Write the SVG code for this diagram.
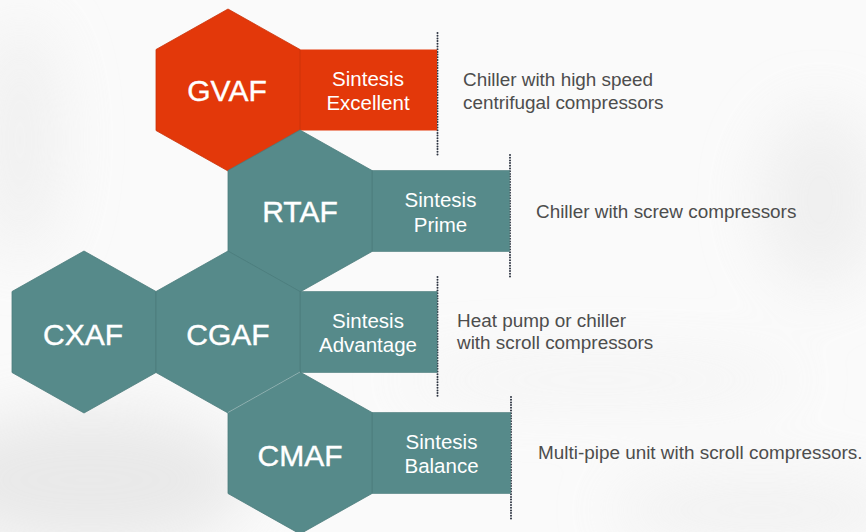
<svg xmlns="http://www.w3.org/2000/svg" width="866" height="532" viewBox="0 0 866 532">
<defs>
<style>
.hex-o{fill:#e3380a;stroke:#c93209;stroke-width:0.8}
.hex-t{fill:#568a8a;stroke:#4b7c7c;stroke-width:0.8}
.box-o{fill:#e3380a}
.box-t{fill:#568a8a;stroke:#4b7c7c;stroke-width:0.6}
.code{font-family:"Liberation Sans",Arial,sans-serif;font-size:30px;fill:#ffffff;text-anchor:middle;stroke:#ffffff;stroke-width:0.4}
.name{font-family:"Liberation Sans",Arial,sans-serif;font-size:20.5px;fill:#ffffff;text-anchor:middle}
.desc{font-family:"Liberation Sans",Arial,sans-serif;font-size:18.9px;fill:#4d4d4d}
.dots{stroke:#2c3340;stroke-width:2;stroke-linecap:round;stroke-dasharray:0 2.7;fill:none}
</style>
<filter id="blur" x="-50%" y="-50%" width="200%" height="200%"><feGaussianBlur stdDeviation="30"/></filter>
</defs>
<g id="background">
<rect width="866" height="532" fill="#fafafa"/>
<g filter="url(#blur)" opacity="0.7">
<ellipse cx="90" cy="480" rx="160" ry="70" fill="#e2e2e2"/>
<ellipse cx="20" cy="140" rx="40" ry="120" fill="#ececec"/>
<ellipse cx="820" cy="200" rx="60" ry="90" fill="#ebebeb"/>
<ellipse cx="760" cy="510" rx="150" ry="30" fill="#ececec"/>
<ellipse cx="600" cy="380" rx="200" ry="18" fill="#efefef"/>
</g>
</g>
<g id="dividers">
<line class="dots" x1="437.5" y1="33" x2="437.5" y2="155"/>
<line class="dots" x1="510" y1="155" x2="510" y2="277"/>
<line class="dots" x1="437.5" y1="277" x2="437.5" y2="398"/>
<line class="dots" x1="511" y1="397" x2="511" y2="520"/>
</g>
<g id="gvaf">
<rect class="box-o" x="299" y="49.5" width="138" height="81"/>
<polygon class="hex-o" points="228,9 300,49.5 300,130.5 228,171 156,130.5 156,49.5"/>
<text class="code" x="227" y="101">GVAF</text>
<text class="name" x="368" y="85.5">Sintesis</text>
<text class="name" x="368" y="110">Excellent</text>
<text class="desc" x="463" y="85.5">Chiller with high speed</text>
<text class="desc" x="463" y="109">centrifugal compressors</text>
</g>
<g id="rtaf">
<rect class="box-t" x="372" y="170.5" width="137.5" height="81"/>
<polygon class="hex-t" points="300,130 372,170.5 372,251.5 300,292 228,251.5 228,170.5"/>
<text class="code" x="300" y="222">RTAF</text>
<text class="name" x="440.5" y="206.5">Sintesis</text>
<text class="name" x="440.5" y="231.5">Prime</text>
<text class="desc" x="536" y="218">Chiller with screw compressors</text>
</g>
<g id="cxaf">
<polygon class="hex-t" points="84,251 156,291.5 156,372.5 84,413 12,372.5 12,291.5"/>
<text class="code" x="83" y="345">CXAF</text>
</g>
<g id="cgaf">
<rect class="box-t" x="300" y="291.5" width="137" height="81"/>
<polygon class="hex-t" points="228,251 300,291.5 300,372.5 228,413 156,372.5 156,291.5"/>
<text class="code" x="228" y="345">CGAF</text>
<text class="name" x="368" y="327.5">Sintesis</text>
<text class="name" x="368" y="352">Advantage</text>
<text class="desc" x="457" y="326.5">Heat pump or chiller</text>
<text class="desc" x="457" y="349">with scroll compressors</text>
</g>
<g id="cmaf">
<rect class="box-t" x="372" y="412.5" width="138.5" height="81"/>
<polygon class="hex-t" points="300,372 372,412.5 372,493.5 300,534 228,493.5 228,412.5"/>
<line x1="228" y1="412.5" x2="300" y2="372" stroke="#9fbebe" stroke-width="0.8"/>
<text class="code" x="300" y="466">CMAF</text>
<text class="name" x="441.5" y="448.5">Sintesis</text>
<text class="name" x="441.5" y="473">Balance</text>
<text class="desc" x="538" y="459">Multi-pipe unit with scroll compressors.</text>
</g>
</svg>
